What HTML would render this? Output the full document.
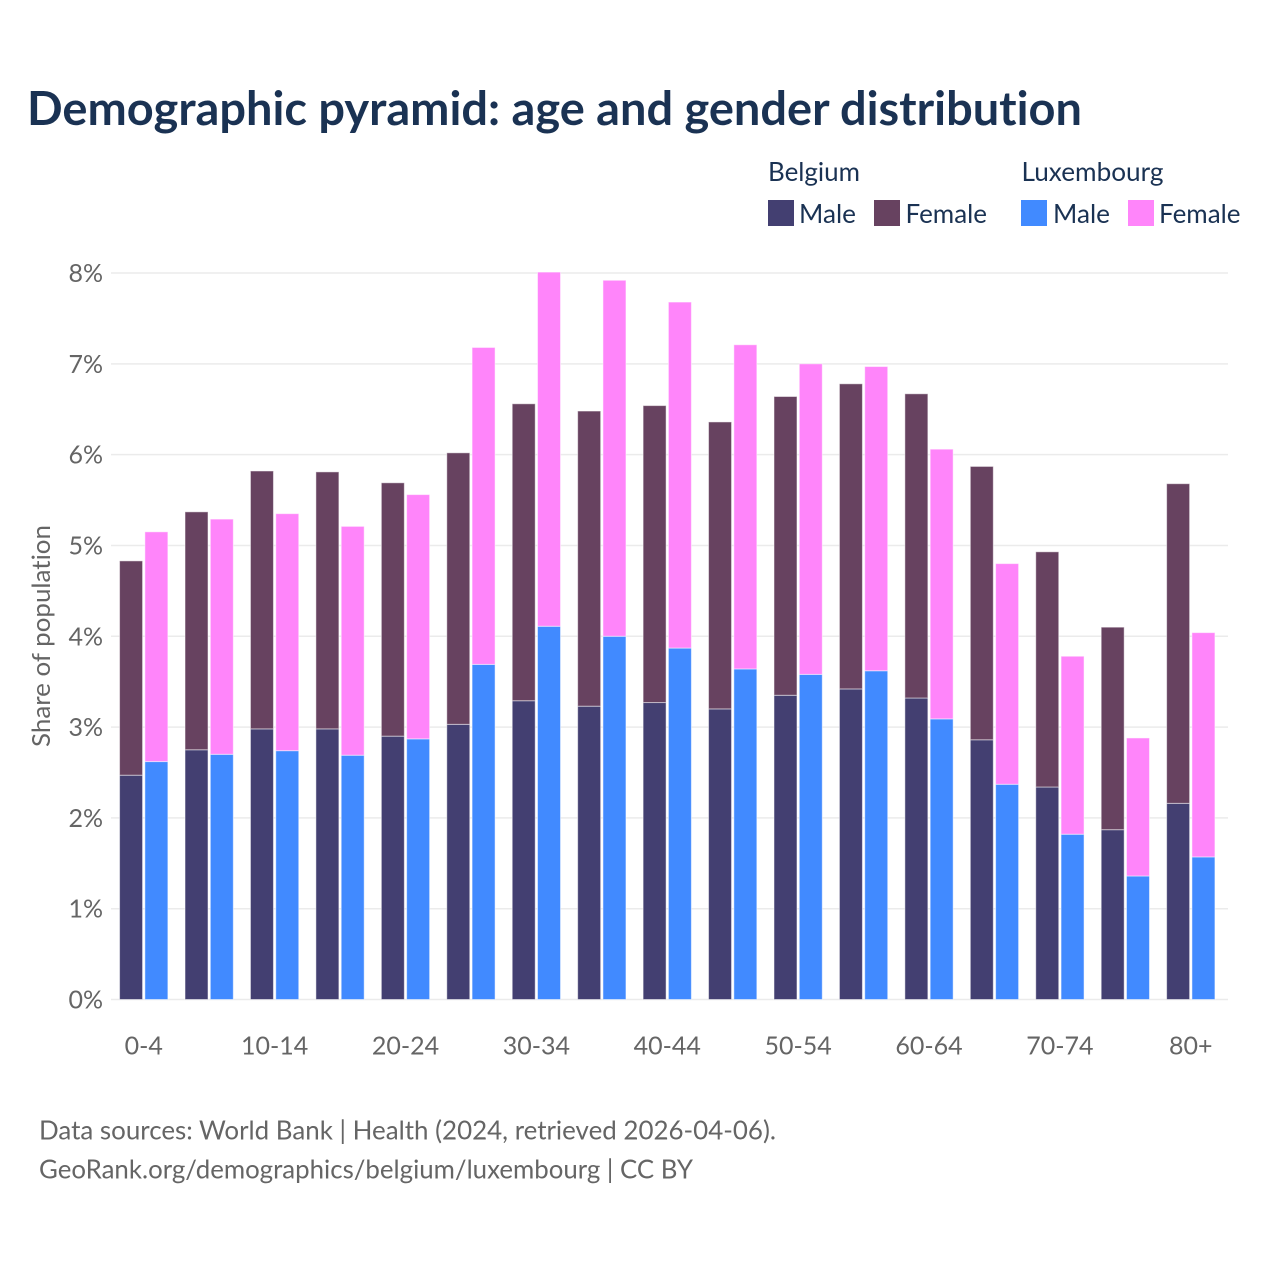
<!DOCTYPE html>
<html lang="en">
<head>
<meta charset="utf-8">
<title>Demographic pyramid: age and gender distribution</title>
<style>
html,body{margin:0;padding:0;background:#fff;width:1280px;height:1280px;overflow:hidden}
svg{display:block}
text{font-family:"Lato","Carlito","Liberation Sans",sans-serif;font-variant-ligatures:none}
</style>
</head>
<body>
<svg id="chart" width="1280" height="1280" viewBox="0 0 1280 1280" xmlns="http://www.w3.org/2000/svg">
  <rect width="1280" height="1280" fill="#fff"/>
  <text x="27" y="125" font-size="47" font-weight="700" fill="#1a3253" textLength="1055" lengthAdjust="spacingAndGlyphs">Demographic pyramid: age and gender distribution</text>

  <g font-size="26" fill="#1a3253">
    <text x="768" y="181" textLength="92" lengthAdjust="spacingAndGlyphs">Belgium</text>
    <text x="1021.5" y="181" textLength="142" lengthAdjust="spacingAndGlyphs">Luxembourg</text>
    <rect x="768" y="200" width="26" height="26" fill="#433f71"/>
    <text x="799" y="223" textLength="57" lengthAdjust="spacingAndGlyphs">Male</text>
    <rect x="874" y="200" width="26" height="26" fill="#674260"/>
    <text x="905.5" y="223" textLength="81.5" lengthAdjust="spacingAndGlyphs">Female</text>
    <rect x="1021" y="200" width="26" height="26" fill="#418aff"/>
    <text x="1053" y="223" textLength="57" lengthAdjust="spacingAndGlyphs">Male</text>
    <rect x="1128" y="200" width="26" height="26" fill="#ff85fa"/>
    <text x="1159" y="223" textLength="81.5" lengthAdjust="spacingAndGlyphs">Female</text>
  </g>

  <g id="grid"></g>
  <g id="bars"></g>
  <g id="y-ticks"></g>
  <g id="x-ticks"></g>

  <text transform="translate(50,636) rotate(-90)" text-anchor="middle" font-size="25" fill="#656565" textLength="222" lengthAdjust="spacingAndGlyphs">Share of population</text>

  <g font-size="26" fill="#656565">
    <text x="39" y="1139.5" textLength="737" lengthAdjust="spacingAndGlyphs">Data sources: World Bank | Health (2024, retrieved 2026-04-06).</text>
    <text x="39" y="1178.5" textLength="654" lengthAdjust="spacingAndGlyphs">GeoRank.org/demographics/belgium/luxembourg | CC BY</text>
  </g>
</svg>
<script>
const categories = ["0-4","5-9","10-14","15-19","20-24","25-29","30-34","35-39","40-44","45-49","50-54","55-59","60-64","65-69","70-74","75-79","80+"];
const belgiumMale = [2.47,2.75,2.98,2.98,2.90,3.03,3.29,3.23,3.27,3.20,3.35,3.42,3.32,2.86,2.34,1.87,2.16];
const belgiumFemale = [2.36,2.62,2.84,2.83,2.79,2.99,3.27,3.25,3.27,3.16,3.29,3.36,3.35,3.01,2.59,2.23,3.52];
const luxembourgMale = [2.62,2.70,2.74,2.69,2.87,3.69,4.11,4.00,3.87,3.64,3.58,3.62,3.09,2.37,1.82,1.36,1.57];
const luxembourgFemale = [2.53,2.59,2.61,2.52,2.69,3.49,3.90,3.92,3.81,3.57,3.42,3.35,2.97,2.43,1.96,1.52,2.47];
const yTickValues = [0,1,2,3,4,5,6,7,8];
const xTickLabels = ["0-4","10-14","20-24","30-34","40-44","50-54","60-64","70-74","80+"];

const NS = "http://www.w3.org/2000/svg";
const plotLeft = 111, plotRight = 1228, plotBottom = 999.5, plotTop = 273;
const yMax = 8;
const bandLeft = 111, bandRight = 1223.5;
const bandStep = (bandRight - bandLeft) / categories.length;
const barWidth = 23, barGap = 1.15;

function yScale(v) { return plotBottom - (v / yMax) * (plotBottom - plotTop); }
function xCenter(i) { return bandLeft + bandStep * (i + 0.5); }

const grid = document.getElementById("grid");
const yTicks = document.getElementById("y-ticks");
const xTicks = document.getElementById("x-ticks");
const bars = document.getElementById("bars");

yTickValues.forEach(function (t) {
  const line = document.createElementNS(NS, "line");
  
  
  line.setAttribute("x1", plotLeft);
  line.setAttribute("x2", plotRight);
  line.setAttribute("y1", yScale(t));
  line.setAttribute("y2", yScale(t));
  line.setAttribute("stroke", "#ebebeb");
  line.setAttribute("stroke-width", "1.5");
  grid.appendChild(line);

  const label = document.createElementNS(NS, "text");
  
  
  label.setAttribute("x", 103);
  label.setAttribute("y", yScale(t) + 9);
  label.setAttribute("text-anchor", "end");
  label.setAttribute("font-size", "25");
  label.setAttribute("fill", "#656565");
  label.textContent = t + "%";
  yTicks.appendChild(label);
});

xTickLabels.forEach(function (name) {
  const label = document.createElementNS(NS, "text");
  
  
  label.setAttribute("x", xCenter(categories.indexOf(name)));
  label.setAttribute("y", 1054.5);
  label.setAttribute("text-anchor", "middle");
  label.setAttribute("font-size", "25");
  label.setAttribute("fill", "#656565");
  label.textContent = name;
  xTicks.appendChild(label);
});

function drawSegment(x, base, value, color) {
  const rect = document.createElementNS(NS, "rect");
  
  
  rect.setAttribute("x", x);
  rect.setAttribute("y", yScale(base + value));
  rect.setAttribute("width", barWidth);
  rect.setAttribute("height", yScale(base) - yScale(base + value));
  rect.setAttribute("fill", color);
  rect.setAttribute("stroke", "#fff");
  rect.setAttribute("stroke-opacity", "0.5");
  rect.setAttribute("stroke-width", "1");
  bars.appendChild(rect);
}

categories.forEach(function (c, i) {
  const cx = xCenter(i);
  const leftX = cx - barGap - barWidth;
  const rightX = cx + barGap;
  drawSegment(leftX, 0, belgiumMale[i], "#433f71");
  drawSegment(leftX, belgiumMale[i], belgiumFemale[i], "#674260");
  drawSegment(rightX, 0, luxembourgMale[i], "#418aff");
  drawSegment(rightX, luxembourgMale[i], luxembourgFemale[i], "#ff85fa");
});
</script>
</body>
</html>
